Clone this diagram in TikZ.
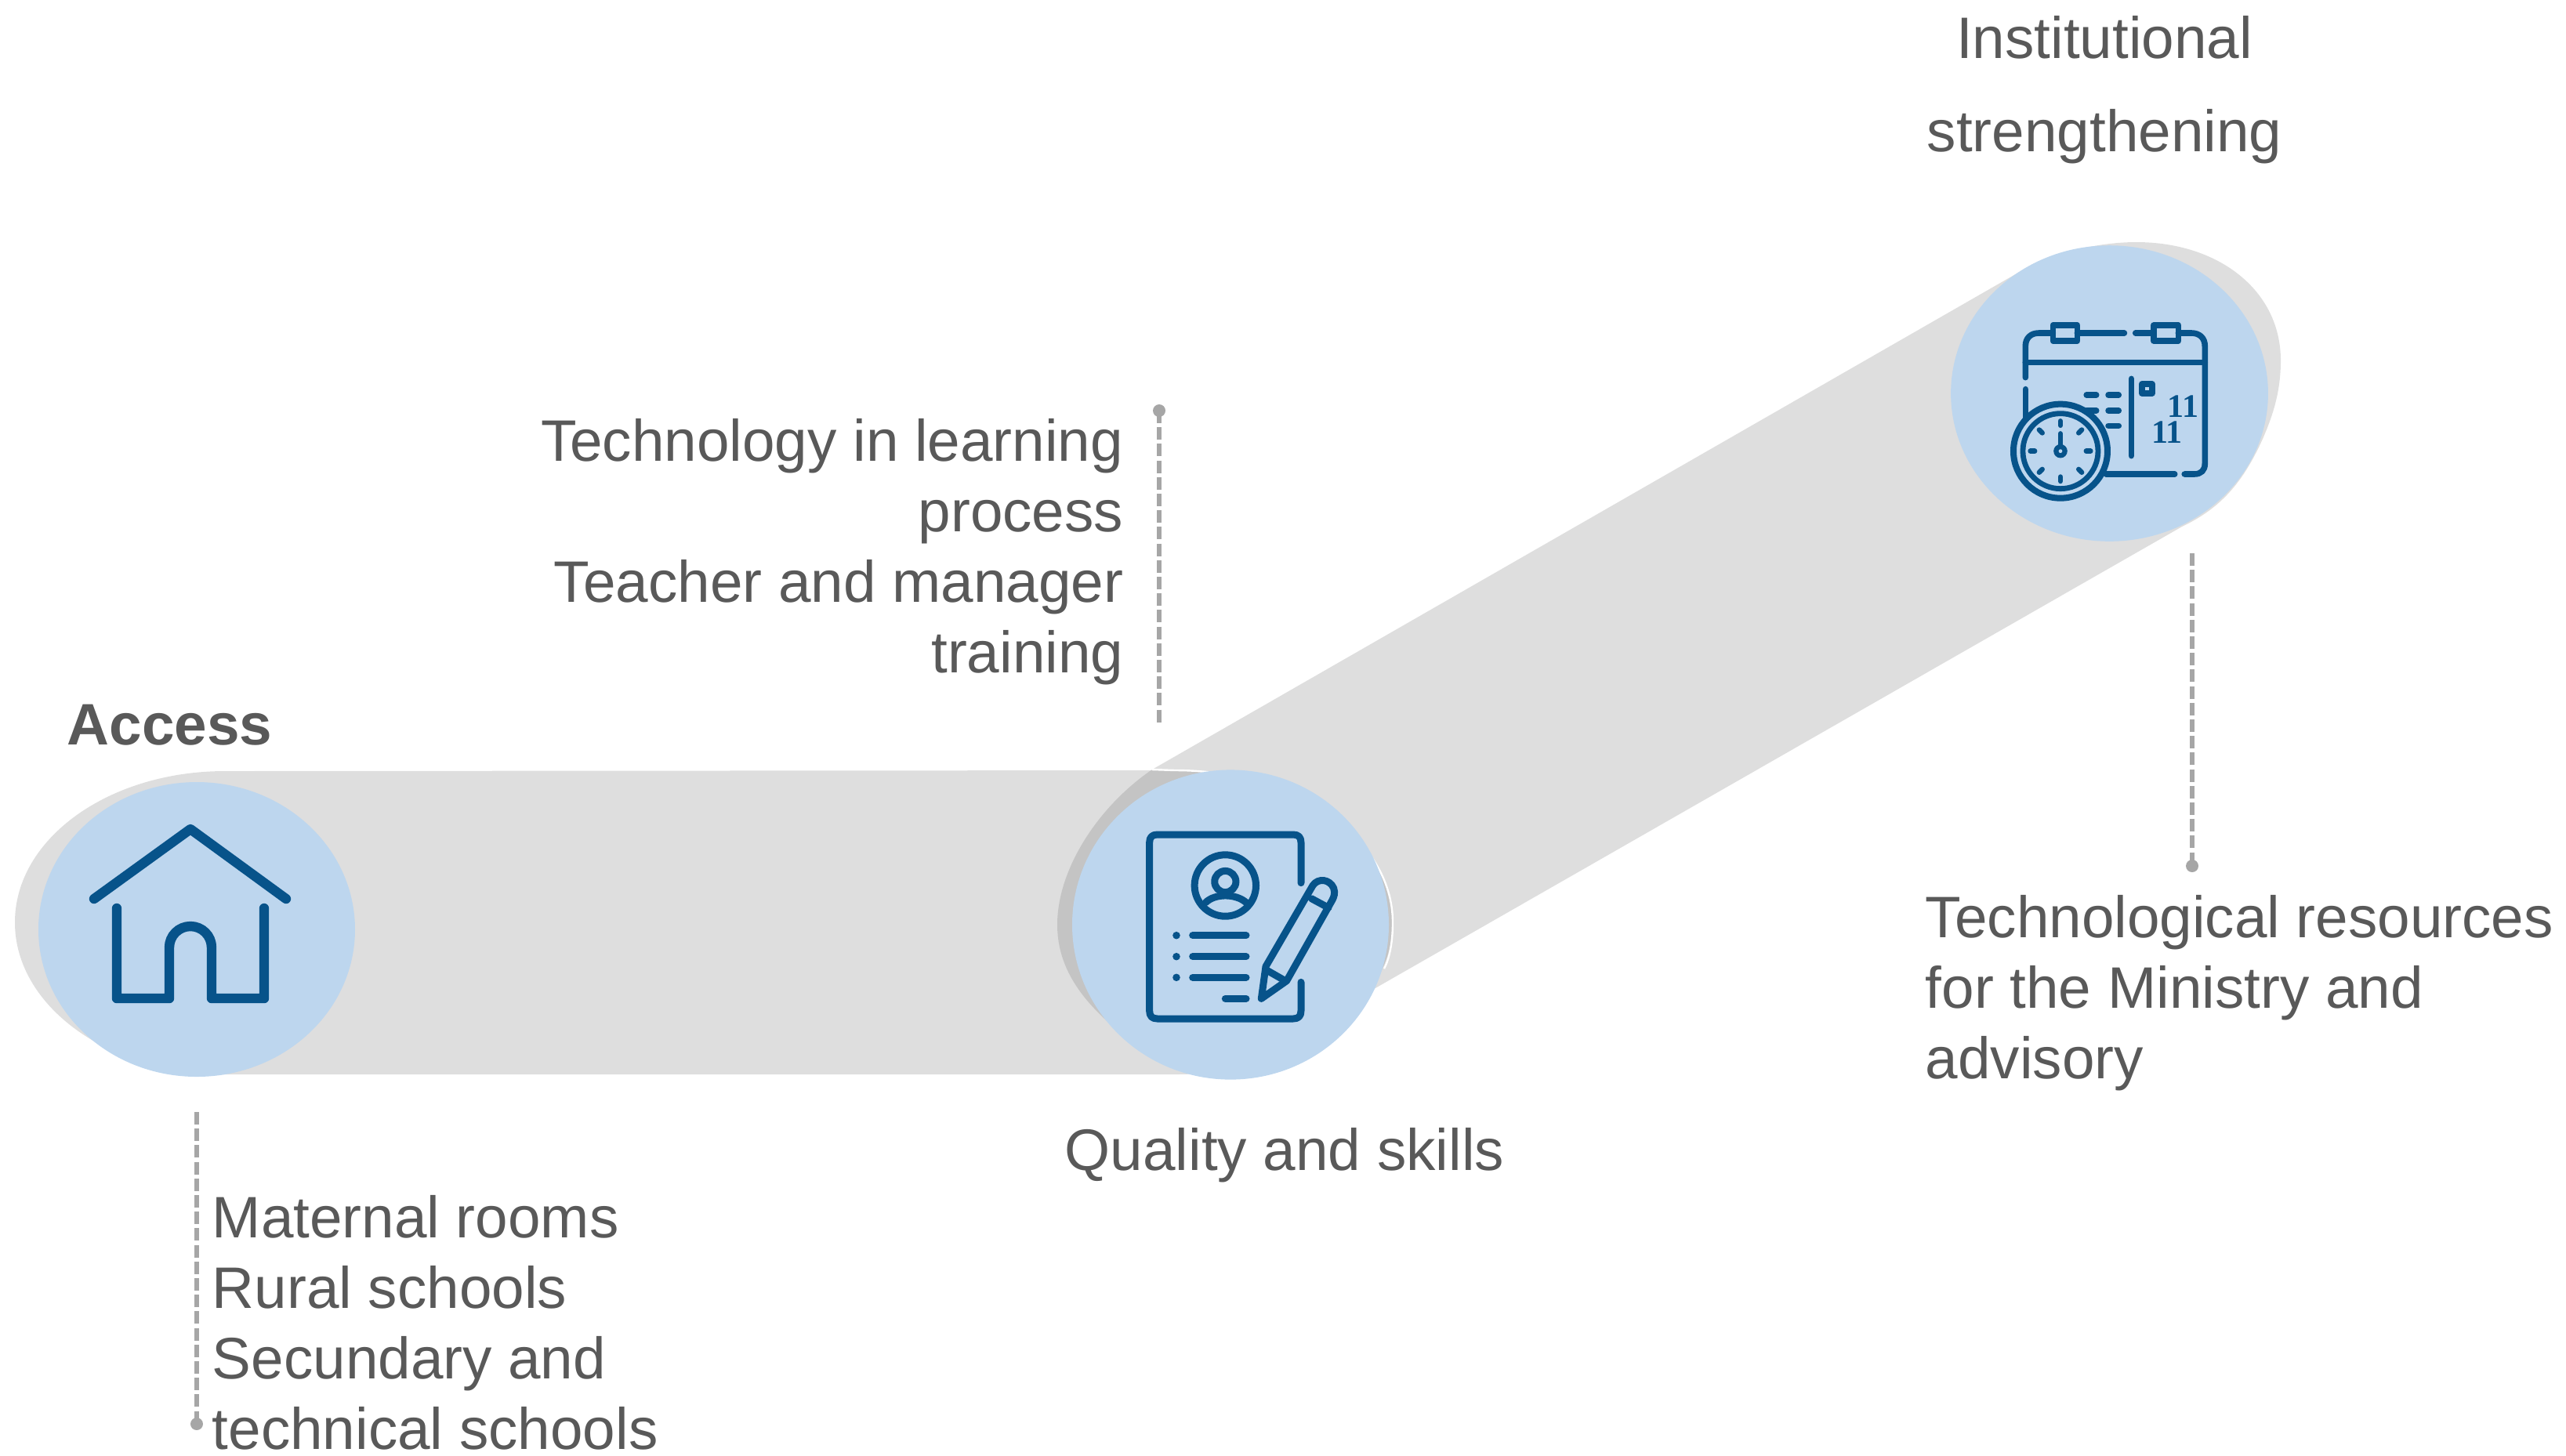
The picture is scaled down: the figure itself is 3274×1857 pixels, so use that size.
\documentclass[tikz,border=0pt]{standalone}
\usepackage{fontspec}
\usetikzlibrary{calc}
\setmainfont{Liberation Sans}
\newfontfamily\numfont{Liberation Serif}
\definecolor{bandgray}{HTML}{DEDEDE}
\definecolor{overlapgray}{HTML}{C4C4C4}
\definecolor{discblue}{HTML}{BDD6EE}
\definecolor{iconblue}{HTML}{07538A}
\definecolor{txtgray}{HTML}{595959}
\definecolor{leadgray}{HTML}{A6A6A6}
\newcommand{\barpath}{(287,984) -- (1500,983) .. controls (1652,983) and (1777,1070) .. (1777,1177) .. controls (1777,1284) and (1652,1371) .. (1500,1371) -- (287,1371) .. controls (139,1371) and (19,1284) .. (19,1177) .. controls (19,1070) and (139,984) .. (287,984) -- cycle}
\newcommand{\bandpath}{(1470,982) -- (2594,337) .. controls (2640,318) and (2685,309) .. (2726,309) .. controls (2830,309) and (2910,370) .. (2910,460) .. controls (2910,500) and (2900,530) .. (2887,560) .. controls (2860,620) and (2830,650) .. (2784,672) -- (1753,1262) -- (1600,1350) .. controls (1530,1370) and (1450,1340) .. (1417,1307) .. controls (1375,1270) and (1349,1230) .. (1349,1180) .. controls (1349,1110) and (1400,1030) .. (1470,982) -- cycle}
\tikzset{
  x=0.25pt,y=-0.25pt,
  iconline/.style={draw=iconblue,line width=2.25pt,line cap=round,line join=round},
  thinicon/.style={draw=iconblue,line width=1.9pt,line cap=round,line join=round},
  leader/.style={draw=leadgray,line width=1.3pt,dash pattern=on 4pt off 1.3pt},
  leaddot/.style={circle,fill=leadgray,inner sep=0pt,minimum size=4pt},
  body/.style={text=txtgray,inner sep=0pt,font=\fontsize{18.67}{22.5}\selectfont},
}
\begin{document}
\begin{tikzpicture}
\useasboundingbox (0,0) rectangle (3274,1857);
% bands
\fill[bandgray] \bandpath;
\fill[bandgray] \barpath;
\begin{scope}
\clip \barpath;
\fill[overlapgray] \bandpath;
\end{scope}
\draw[white,line width=0.6pt] (1470,982) -- (1500,983) .. controls (1652,983) and (1777,1070) .. (1777,1177) .. controls (1777,1205) and (1772,1225) .. (1766,1236);
% discs
\fill[discblue] (251,1186) ellipse [x radius=50.5pt,y radius=47pt];
\fill[discblue] (1570,1180) ellipse [x radius=50.5pt,y radius=49.4pt];
\fill[discblue] (2691.5,502) ellipse [x radius=50.6pt,y radius=47.2pt];
% house icon
\begin{scope}[line width=3.1pt,draw=iconblue,line cap=round,line join=round]
\draw[iconblue] (120,1147) -- (243,1058) -- (365,1147);
\draw[iconblue] (149,1159) -- (149,1274) -- (216,1274) -- (216,1209) arc[start angle=180,end angle=0,radius=6.75pt] -- (270,1274) -- (337,1274) -- (337,1159);
\end{scope}
% document icon, offset (1320,940), zoom 3
\begin{scope}[shift={(1320,940)},x=0.08333pt,y=-0.08333pt]
\draw[iconline] (1020,560) -- (1020,405) .. controls (1020,385) and (1010,375) .. (990,375) -- (470,375) .. controls (450,375) and (440,385) .. (440,405) -- (440,1050) .. controls (440,1070) and (450,1080) .. (470,1080) -- (990,1080) .. controls (1010,1080) and (1020,1070) .. (1020,1050) -- (1020,940);
\draw[iconline] (730,570) circle [radius=9.8pt];
\draw[iconline] (730,555) circle [radius=3.4pt];
\draw[iconline] (655,635) .. controls (690,600) and (770,600) .. (810,635);
\foreach \yy in {761,842,922} {
  \fill[iconblue] (543,\yy) circle [radius=1.2pt];
  \draw[iconline] (605,\yy) -- (810,\yy);
}
\draw[iconline] (730,1003) -- (810,1003);
\draw[iconline] (868,1003) -- (885,880) -- (1065,570) .. controls (1085,540) and (1130,545) .. (1145,580) .. controls (1152,600) and (1145,615) .. (1140,625) -- (965,935) -- cycle;
\draw[iconline] (1060,620) -- (1125,655);
\draw[iconline] (890,895) -- (960,935);
\end{scope}
% calendar icon, offset (2380,280), zoom 2.8 x 3
\begin{scope}[shift={(2380,280)},x=0.08929pt,y=-0.08333pt]
\draw[thinicon] (572,605) -- (572,485) .. controls (572,455) and (590,435) .. (620,435) -- (670,435);
\draw[thinicon] (757,435) -- (925,435);
\draw[thinicon] (965,435) -- (1030,435);
\draw[thinicon] (1118,435) -- (1165,435) .. controls (1195,435) and (1213,455) .. (1213,485) -- (1213,935) .. controls (1213,960) and (1200,975) .. (1175,975) -- (1140,975);
\draw[thinicon] (1105,975) -- (860,975);
\draw[thinicon] (572,650) -- (572,770);
\draw[thinicon] (572,547) -- (1213,547);
\draw[thinicon] (670,405) rectangle (757,465);
\draw[thinicon] (1030,405) rectangle (1118,465);
\draw[thinicon] (950,610) -- (950,905);
\draw[thinicon] (988,630) rectangle (1024,666);
\foreach \xa/\xb/\yy in {790/825/672,868/905/672,790/825/732,868/905/732,868/905/790}
  \draw[thinicon] (\xa,\yy) -- (\xb,\yy);
\node[text=iconblue,inner sep=0pt,font=\numfont\bfseries\fontsize{10.5}{11}\selectfont] (numa) at (1135,715) {11};
\node[text=iconblue,inner sep=0pt,font=\numfont\bfseries\fontsize{10.5}{11}\selectfont] (numb) at (1078,815) {11};
\coordinate (hub) at (697,887);
\fill[discblue] (hub) circle [radius=15.5pt];
\draw[draw=iconblue,line width=2pt] (hub) circle [radius=15pt];
\draw[draw=iconblue,line width=1.7pt] (hub) circle [radius=12pt];
\foreach \ang in {0,45,...,315}
  \draw[draw=iconblue,line width=1.6pt,line cap=round] ($(hub)+(\ang:9.6pt)$) -- ($(hub)+(\ang:8.2pt)$);
\draw[draw=iconblue,line width=1.6pt,line cap=round] (697,820) -- (697,880);
\fill[iconblue] (hub) circle [radius=2.2pt];
\fill[discblue] (hub) circle [radius=0.6pt];
\end{scope}
% leaders
\coordinate (l1a) at (1479,524);
\coordinate (l1b) at (1479,925);
\coordinate (l2a) at (2797,706);
\coordinate (l2b) at (2797,1105);
\coordinate (l3a) at (251,1419);
\coordinate (l3b) at (251,1817);
\draw[leader] (l1a) -- (l1b);
\draw[leader] (l2a) -- (l2b);
\draw[leader] (l3a) -- (l3b);
\node[leaddot] (d1) at (l1a) {};
\node[leaddot] (d2) at (l2b) {};
\node[leaddot] (d3) at (l3b) {};
% labels
\node[body,anchor=north west,font=\bfseries\fontsize{18.67}{22.5}\selectfont] (access) at (85,898) {Access};
\node[body,anchor=north west,align=left] (accesslist) at (270,1525) {Maternal rooms\\Rural schools\\Secundary and\\technical schools};
\node[body,anchor=north east,align=right] (qualitylist) at (1434,534) {Technology in learning\\process\\Teacher and manager\\training};
\node[body,anchor=north west] (quality) at (1358,1439) {Quality and skills};
\node[body,anchor=north,align=center,font=\fontsize{18.67}{29.75}\selectfont] (inst) at (2685,20) {Institutional\\strengthening};
\node[body,anchor=north west,align=left] (resources) at (2456,1142) {Technological resources\\for the Ministry and\\advisory};
\end{tikzpicture}
\end{document}
